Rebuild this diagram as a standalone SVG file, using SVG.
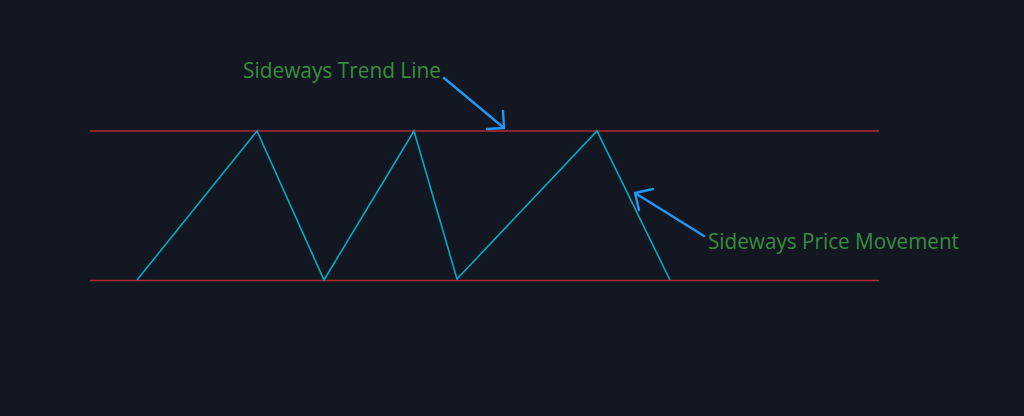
<svg xmlns="http://www.w3.org/2000/svg" width="1024" height="416" viewBox="0 0 1024 416">
<style>
.band{stroke:#b22833;stroke-width:1.6;fill:none}
.price{stroke:#00acc1;stroke-width:1.6;fill:none;stroke-linejoin:miter}
.arrow{stroke:#2196f3;stroke-width:2.4;fill:none;stroke-linecap:round;stroke-linejoin:round}
.lbl{fill:#388e3c;font-family:"Open Sans","DejaVu Sans",sans-serif;font-size:21px}
</style>
<rect width="1024" height="416" fill="#131722"/>
<g id="trend-top"><line class="band" x1="90" y1="131" x2="879" y2="131"/></g>
<g id="trend-bottom"><line class="band" x1="90" y1="280.5" x2="879" y2="280.5"/></g>
<g id="price-movement"><polyline class="price" points="137,280 257,131 324,280 414,131 457,279 597,131 670,280"/></g>
<g id="connectors">
<path class="arrow" d="M444,78 L504,128 M487,129 L504,128 L503,111"/>
<path class="arrow" d="M704,236 L635,193 M653,189 L635,193 L639,210"/>
</g>
<g id="label-trend"><text class="lbl" x="243" y="78" textLength="198" lengthAdjust="spacingAndGlyphs">Sideways Trend Line</text></g>
<g id="label-price"><text class="lbl" x="708" y="249" textLength="251" lengthAdjust="spacingAndGlyphs">Sideways Price Movement</text></g>
</svg>
